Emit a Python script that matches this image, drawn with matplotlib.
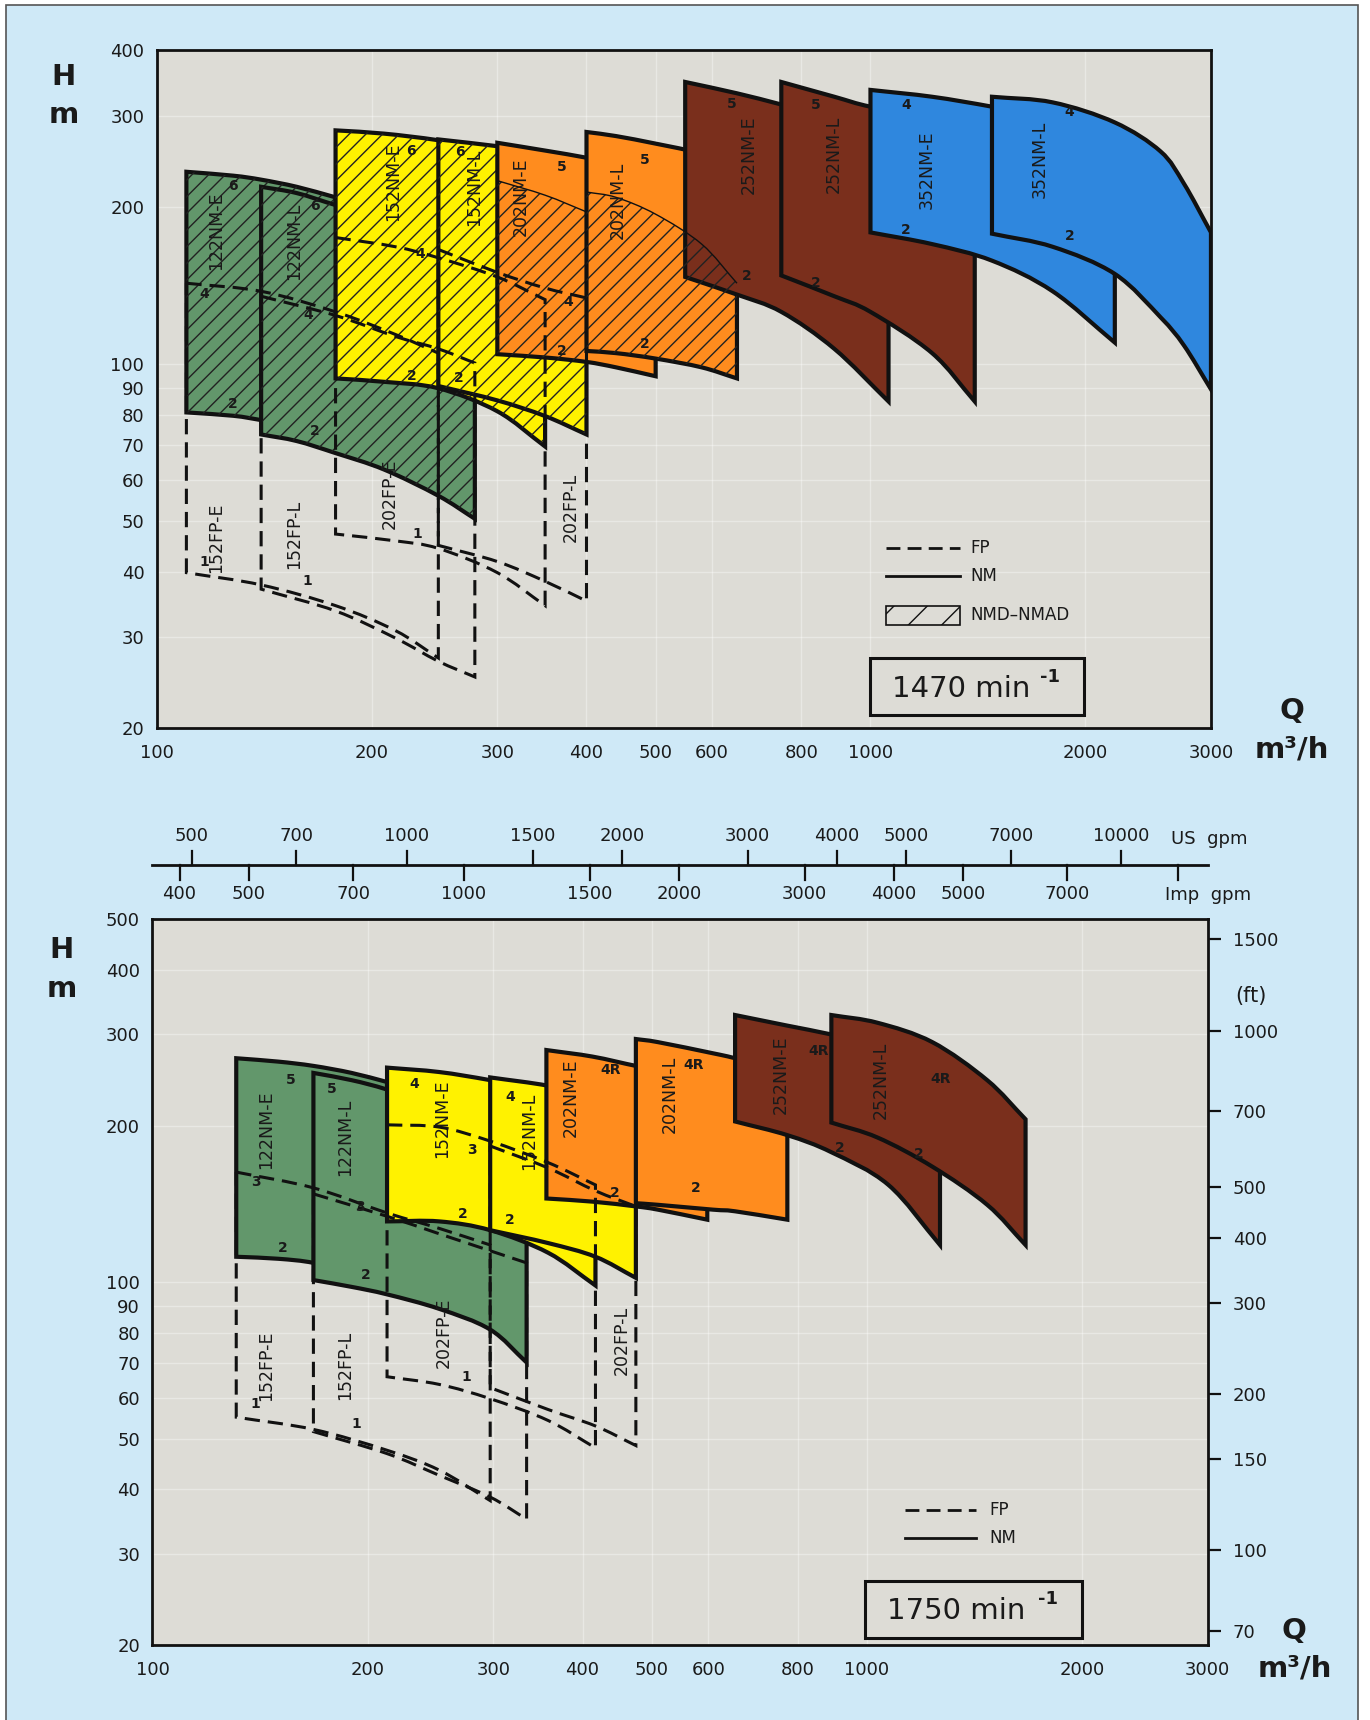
import numpy as np
import matplotlib
matplotlib.use('Agg')
import matplotlib.pyplot as plt
from matplotlib.patches import Rectangle, PathPatch
from matplotlib.path import Path
from matplotlib.lines import Line2D

plt.rcParams['font.family'] = ['DejaVu Sans']
plt.rcParams['hatch.linewidth'] = 1.0

# ------------------------------------------------------------------
# DATA  (Q in m3/h, H in m)
# ------------------------------------------------------------------
x_ticks = [100, 200, 300, 400, 500, 600, 800, 1000, 2000, 3000]
y_ticks_1470 = [20, 30, 40, 50, 60, 70, 80, 90, 100, 200, 300, 400]
y_ticks_1750 = [20, 30, 40, 50, 60, 70, 80, 90, 100, 200, 300, 400, 500]
ft_ticks = [70, 100, 150, 200, 300, 400, 500, 700, 1000, 1500]
us_gpm_ticks = [500, 700, 1000, 1500, 2000, 3000, 4000, 5000, 7000, 10000]
imp_gpm_ticks = [400, 500, 700, 1000, 1500, 2000, 3000, 4000, 5000, 7000, 10000]

# ---- 1470 min-1 : NM ranges (solid outline) ----
nm1470_names = ['122NM-E', '122NM-L', '152NM-E', '152NM-L', '202NM-E',
                '202NM-L', '252NM-E', '252NM-L', '352NM-E', '352NM-L']
nm1470_q = [
    [110, 128, 140, 157, 178],
    [140, 157, 178, 208, 248, 279],
    [178, 208, 248, 300, 350],
    [248, 300, 350, 400],
    [300, 350, 400, 440, 500],
    [400, 440, 500, 580, 650],
    [550, 650, 750, 890, 1060],
    [750, 890, 1000, 1220, 1400],
    [1000, 1220, 1480, 1800, 2200],
    [1480, 1800, 2200, 2550, 2750, 3000],
]
nm1470_top = [
    [234, 230, 226, 219, 209],
    [219, 213, 202, 190, 170, 160],
    [281, 277, 269, 257, 242],
    [270, 262, 254, 245],
    [266, 257, 249, 242, 232],
    [279, 274, 265, 254, 244],
    [348, 331, 315, 296, 277],
    [348, 326, 312, 298, 284],
    [336, 326, 312, 296, 273],
    [326, 318, 291, 256, 222, 179],
]
nm1470_bot = [
    [80.8, 79.6, 78.1, 76.0, 73.5],
    [73.3, 71.2, 67.5, 62.8, 55.9, 50.5],
    [93.9, 92.5, 89.9, 81.2, 69.5],
    [90.8, 85.2, 79.5, 73.3],
    [104.5, 103, 101, 98.6, 94.8],
    [106, 105, 102.5, 98.6, 93.9],
    [147, 136, 126, 107, 84.8],
    [148, 135, 126, 105, 84.8],
    [179, 170, 158, 138, 110],
    [178, 168, 149, 123, 108.6, 89.5],
]
nm1470_hatched = [True, True, True, True, False, False, False, False, False, False]

# NMD-NMAD part of the 202 ranges (hatched below a thin line)
nmd1470_q = [[300, 350, 400], [400, 440, 500, 580, 650]]
nmd1470_top = [[225, 211, 196], [214, 209, 194, 170, 143]]
nmd1470_bot = [[104.5, 103, 101], [106, 105, 102.5, 98.6, 93.9]]

# ---- 1470 min-1 : FP ranges (dashed outline) ----
fp1470_names = ['152FP-E', '152FP-L', '202FP-E', '202FP-L']
fp1470_q = [[110, 140, 178, 216, 248], [140, 178, 216, 248, 279],
            [178, 216, 248, 300, 350], [248, 300, 350, 400]]
fp1470_top = [[143, 138, 126, 114, 105], [135, 124, 113, 107, 100.5],
              [175, 168, 160, 147, 133], [166, 150, 140, 134]]
fp1470_bot = [[39.8, 37.7, 34.4, 30.8, 27.3], [37.0, 33.6, 29.8, 26.9, 25.1],
              [47.2, 45.8, 44.3, 39.8, 34.4], [44.9, 41.8, 38.3, 35.1]]

# ---- 1750 min-1 : NM ranges ----
nm1750_names = ['122NM-E', '122NM-L', '152NM-E', '152NM-L', '202NM-E',
                '202NM-L', '252NM-E', '252NM-L']
nm1750_q = [
    [131, 150, 168, 190, 213],
    [168, 190, 213, 252, 297, 334],
    [213, 252, 297, 358, 417],
    [297, 358, 417, 475],
    [356, 413, 475, 510, 598],
    [475, 510, 609, 654, 774],
    [654, 774, 892, 1072, 1266],
    [892, 1035, 1235, 1474, 1668],
]
nm1750_top = [
    [270, 266, 261, 253, 243],
    [253, 245, 235, 217, 197, 187],
    [259, 254, 245, 233, 222],
    [248, 239, 227, 215],
    [280, 272, 261, 257, 245],
    [294, 290, 276, 270, 254],
    [327, 312, 300, 283, 267],
    [327, 316, 290, 245, 206],
]
nm1750_bot = [
    [112, 111, 109, 104, 100.4],
    [101, 98, 94.8, 88.9, 81.1, 70.1],
    [131, 131, 126, 114, 98.6],
    [126, 119, 112, 102],
    [145, 143, 140, 138, 132],
    [142, 141, 138, 137, 132],
    [204, 192, 178, 154, 118],
    [203, 190, 167, 141, 118],
]

# ---- 1750 min-1 : FP ranges ----
fp1750_names = ['152FP-E', '152FP-L', '202FP-E', '202FP-L']
fp1750_q = [[131, 168, 213, 252, 297], [168, 213, 252, 297, 334],
            [213, 252, 297, 358, 417], [297, 358, 417, 475]]
fp1750_top = [[163, 152, 136, 127, 118], [148, 134, 124, 115, 109],
              [201, 199, 187, 170, 154], [183, 166, 150, 140]]
fp1750_bot = [[55, 52.1, 47.5, 43.5, 38], [51.6, 46.8, 42.5, 38.6, 35],
              [65.8, 63.6, 59.7, 54.2, 48], [62.7, 56.9, 52.9, 48.5]]

US_GPM_PER_M3H = 4.4029
IMP_GPM_PER_M3H = 3.6662
FT_PER_M = 1 / 0.3048

# ------------------------------------------------------------------
# STYLE
# ------------------------------------------------------------------
GREEN = '#62976b'
YELLOW = '#fff200'
ORANGE = '#ff8c1e'
BROWN = '#7a2f1c'
BLUE = '#2f87de'
PANEL = '#dddcd6'
BGBLUE = '#cfe9f7'
EDGE = '#111111'
HATCH = '#222222'
TXT = '#1a1a1a'

colors1470 = [GREEN, GREEN, YELLOW, YELLOW, ORANGE, ORANGE, BROWN, BROWN, BLUE, BLUE]
colors1750 = [GREEN, GREEN, YELLOW, YELLOW, ORANGE, ORANGE, BROWN, BROWN]

REF_W, REF_H = 1249.0, 1568.0


def F(x, y):
    return (x / REF_W, 1.0 - y / REF_H)


fig = plt.figure(figsize=(13.7, 17.2), dpi=100, facecolor='white')
fig.add_artist(Rectangle((6 / 1370, -0.01), (1358 - 6) / 1370, 1.01 - 5 / 1720,
                         transform=fig.transFigure, facecolor=BGBLUE,
                         edgecolor='#555555', lw=1.2, zorder=-10))


def axes_at(x0, y0, x1, y1):
    return fig.add_axes([x0 / REF_W, 1 - y1 / REF_H, (x1 - x0) / REF_W, (y1 - y0) / REF_H])


def setup(ax, ylim, yticks):
    ax.set_xscale('log')
    ax.set_yscale('log')
    ax.set_xlim(100, 3000)
    ax.set_ylim(*ylim)
    ax.set_facecolor(PANEL)
    ax.set_xticks(x_ticks, labels=[str(v) for v in x_ticks])
    ax.set_xticks([], minor=True)
    ax.set_yticks(yticks, labels=[str(v) for v in yticks])
    ax.set_yticks([], minor=True)
    ax.tick_params(axis='both', length=0, labelsize=13, labelcolor=TXT)
    ax.tick_params(axis='x', pad=11)
    ax.tick_params(axis='y', pad=9)
    for s in ax.spines.values():
        s.set_linewidth(2.0)
        s.set_color(EDGE)
    ax.grid(True, color='white', lw=1.0, alpha=0.35)
    ax.set_axisbelow(True)


# ---- smooth curve rendering through the read points (Bezier in log-log space) ----
def bezier_segments(q, h):
    """control points for a smooth cubic curve through the given points (log space)."""
    P = np.column_stack([np.log10(q), np.log10(h)])
    n = len(P)
    M = np.zeros_like(P)
    for i in range(n):
        if i == 0:
            M[i] = P[1] - P[0]
        elif i == n - 1:
            M[i] = P[-1] - P[-2]
        else:
            M[i] = (P[i + 1] - P[i - 1]) / 2.0
    verts = []
    for i in range(n - 1):
        c1 = P[i] + M[i] / 3.0
        c2 = P[i + 1] - M[i + 1] / 3.0
        verts += [c1, c2, P[i + 1]]
    return [tuple(10 ** v) for v in verts], [tuple(10 ** P[0])]


def curve_path(q, h):
    segs, start = bezier_segments(q, h)
    return Path(start + segs, [Path.MOVETO] + [Path.CURVE4] * len(segs))


def region_path(q, top, bot):
    tseg, tstart = bezier_segments(q, top)
    bseg, bstart = bezier_segments(q[::-1], bot[::-1])
    verts = tstart + tseg + bstart + bseg + [tstart[0]]
    codes = ([Path.MOVETO] + [Path.CURVE4] * len(tseg) + [Path.LINETO] +
             [Path.CURVE4] * len(bseg) + [Path.CLOSEPOLY])
    return Path(verts, codes)


def draw_nm(ax, qs, tops, bots, cols, hatched, z0=2.0):
    for i, (q, t, b) in enumerate(zip(qs, tops, bots)):
        p = region_path(q, t, b)
        z = z0 + i * 0.01
        ax.add_patch(PathPatch(p, facecolor=cols[i], edgecolor=EDGE,
                               lw=3.0, joinstyle='miter', zorder=z))
        if hatched is not None and hatched[i]:
            ax.add_patch(PathPatch(p, facecolor='none', edgecolor=HATCH,
                                   lw=0, hatch='//', zorder=z + 0.001))


def draw_fp(ax, qs, tops, bots):
    for q, t, b in zip(qs, tops, bots):
        ax.add_patch(PathPatch(region_path(q, t, b), fill=False, edgecolor=EDGE,
                               lw=2.2, linestyle=(0, (5, 2.6)), joinstyle='miter', zorder=3))


# ------------------------------------------------------------------
# TOP PANEL 1470
# ------------------------------------------------------------------
axt = axes_at(143, 46, 1104, 664)
setup(axt, (20, 400), y_ticks_1470)
draw_nm(axt, nm1470_q, nm1470_top, nm1470_bot, colors1470, nm1470_hatched)
for k, z in ((0, 2.0405), (1, 2.5)):
    q, t, b = nmd1470_q[k], nmd1470_top[k], nmd1470_bot[k]
    axt.add_patch(PathPatch(region_path(q, t, b), facecolor='none', edgecolor=HATCH,
                            lw=0, hatch='//', zorder=z))
    axt.add_patch(PathPatch(curve_path(q, t), fill=False, edgecolor=EDGE, lw=1.0, zorder=z))
draw_fp(axt, fp1470_q, fp1470_top, fp1470_bot)

# ------------------------------------------------------------------
# BOTTOM PANEL 1750
# ------------------------------------------------------------------
axb = axes_at(139, 838, 1101, 1500)
setup(axb, (20, 500), y_ticks_1750)
draw_nm(axb, nm1750_q, nm1750_top, nm1750_bot, colors1750, None)
draw_fp(axb, fp1750_q, fp1750_top, fp1750_bot)

axr = axb.twinx()
axr.set_yscale('log')
axr.set_ylim(20 * FT_PER_M, 500 * FT_PER_M)
axr.set_yticks(ft_ticks, labels=[str(v) for v in ft_ticks])
axr.set_yticks([], minor=True)
axr.tick_params(axis='y', length=9, width=1.6, direction='out', pad=9,
                labelsize=13, labelcolor=TXT, color=EDGE)
for s in axr.spines.values():
    s.set_visible(False)

# ------------------------------------------------------------------
# GPM SCALE
# ------------------------------------------------------------------
axg = axes_at(139, 740, 1101, 830)
axg.set_xscale('log')
axg.set_xlim(100, 3000)
axg.set_ylim(830, 740)
axg.axis('off')
axg.plot([100, 3000], [789, 789], color=EDGE, lw=2.0, clip_on=False)
for v in us_gpm_ticks:
    q = v / US_GPM_PER_M3H
    axg.plot([q, q], [789, 776], color=EDGE, lw=1.6)
    axg.text(q, 762, str(v), ha='center', va='center', fontsize=13, color=TXT)
for v in imp_gpm_ticks:
    q = v / IMP_GPM_PER_M3H
    axg.plot([q, q], [789, 802], color=EDGE, lw=1.6)
    if v < 10000:
        axg.text(q, 815, str(v), ha='center', va='center', fontsize=13, color=TXT)
fig.text(*F(1102, 765), 'US  gpm', ha='center', va='center', fontsize=13, color=TXT)
fig.text(*F(1101, 816), 'Imp  gpm', ha='center', va='center', fontsize=13, color=TXT)


# ------------------------------------------------------------------
# TEXT LABELS
# ------------------------------------------------------------------
def label(x, y, s, size=12.5, rot=90, weight='normal'):
    fig.text(*F(x, y), s, rotation=rot, ha='center', va='center', fontsize=size,
             color=TXT, fontweight=weight, zorder=5)


top_name_pos = [(197, 210), (268, 220), (358, 166), (432, 171), (475, 179),
                (563, 183), (683, 141), (760, 141), (845, 155), (948, 145)]
for n, (x, y) in zip(nm1470_names, top_name_pos):
    label(x, y, n)
for n, (x, y) in zip(fp1470_names, [(197, 490), (268, 487), (355, 450), (520, 463)]):
    label(x, y, n)

top_nums = [('6', 212, 170), ('6', 287, 188), ('4', 186, 268), ('4', 281, 287),
            ('2', 212, 368), ('2', 287, 393), ('6', 375, 138), ('6', 419, 139),
            ('4', 383, 232), ('2', 375, 343), ('2', 418, 345), ('5', 512, 152),
            ('4', 518, 275), ('2', 512, 320), ('5', 588, 146), ('2', 588, 314),
            ('5', 667, 95), ('2', 681, 252), ('5', 744, 96), ('2', 744, 258),
            ('4', 826, 96), ('2', 826, 210), ('4', 975, 102), ('2', 975, 215),
            ('1', 380, 487), ('1', 280, 530), ('1', 186, 512)]
for s, x, y in top_nums:
    label(x, y, s, size=10, rot=0, weight='bold')

bot_name_pos = [(243, 1030), (315, 1037), (403, 1020), (482, 1031), (520, 1001),
                (611, 998), (712, 980), (803, 985)]
for n, (x, y) in zip(nm1750_names, bot_name_pos):
    label(x, y, n)
for n, (x, y) in zip(fp1750_names, [(243, 1245), (315, 1245), (405, 1215), (567, 1222)]):
    label(x, y, n)

bot_nums = [('5', 265, 985), ('5', 302, 993), ('3', 233, 1078), ('3', 328, 1100),
            ('2', 258, 1138), ('2', 333, 1162), ('4', 378, 988), ('4', 465, 1000),
            ('3', 430, 1048), ('2', 422, 1107), ('2', 465, 1112), ('4R', 557, 975),
            ('4R', 632, 971), ('2', 560, 1088), ('2', 634, 1083), ('4R', 746, 958),
            ('4R', 858, 984), ('2', 766, 1047), ('2', 838, 1052), ('1', 425, 1255),
            ('1', 325, 1298), ('1', 233, 1280)]
for s, x, y in bot_nums:
    label(x, y, s, size=10, rot=0, weight='bold')

# axis titles
for x, y, s in [(58, 70, 'H'), (58, 105, 'm'), (56, 866, 'H'), (56, 902, 'm'),
                (1178, 648, 'Q'), (1180, 1487, 'Q')]:
    fig.text(*F(x, y), s, ha='center', va='center', fontsize=21, fontweight='bold', color=TXT)
for x, y in [(1178, 683), (1180, 1521)]:
    fig.text(*F(x, y), 'm³/h', ha='center', va='center', fontsize=21, fontweight='bold', color=TXT)
fig.text(*F(1140, 908), '(ft)', ha='center', va='center', fontsize=15, color=TXT)

# speed boxes
for (x0, y0, x1, y1), s in [((793, 600, 988, 652), '1470'), ((789, 1441, 986, 1493), '1750')]:
    fig.add_artist(Rectangle(F(x0, y1), (x1 - x0) / REF_W, (y1 - y0) / REF_H,
                             transform=fig.transFigure, facecolor=PANEL, edgecolor=EDGE,
                             lw=2.2, zorder=4))
    fig.text(*F(x0 + 20, (y0 + y1) / 2 + 2), s + ' min', ha='left', va='center',
             fontsize=21, color=TXT, zorder=5)
    fig.text(*F(x1 - 40, y0 + 17), '-1', ha='left', va='center', fontsize=13,
             fontweight='bold', color=TXT, zorder=5)


# legends
def leg_line(x0, x1, y, ls):
    a, b = F(x0, y), F(x1, y)
    fig.add_artist(Line2D([a[0], b[0]], [a[1], b[1]], transform=fig.transFigure,
                          color=EDGE, lw=2.0, linestyle=ls, zorder=4))


leg_line(808, 875, 500, (0, (5, 2.6)))
leg_line(808, 875, 525, '-')
fig.text(*F(885, 500), 'FP', ha='left', va='center', fontsize=12, color=TXT)
fig.text(*F(885, 525), 'NM', ha='left', va='center', fontsize=12, color=TXT)
fig.add_artist(Rectangle(F(808, 570), 67 / REF_W, 18 / REF_H, transform=fig.transFigure,
                         facecolor=PANEL, edgecolor=EDGE, lw=1.2, hatch='/', zorder=4))
fig.text(*F(885, 561), 'NMD–NMAD', ha='left', va='center', fontsize=12, color=TXT)

leg_line(825, 890, 1377, (0, (5, 2.6)))
leg_line(825, 890, 1402, '-')
fig.text(*F(902, 1377), 'FP', ha='left', va='center', fontsize=12, color=TXT)
fig.text(*F(902, 1402), 'NM', ha='left', va='center', fontsize=12, color=TXT)

fig.savefig('out.png', dpi=100, facecolor=fig.get_facecolor())
